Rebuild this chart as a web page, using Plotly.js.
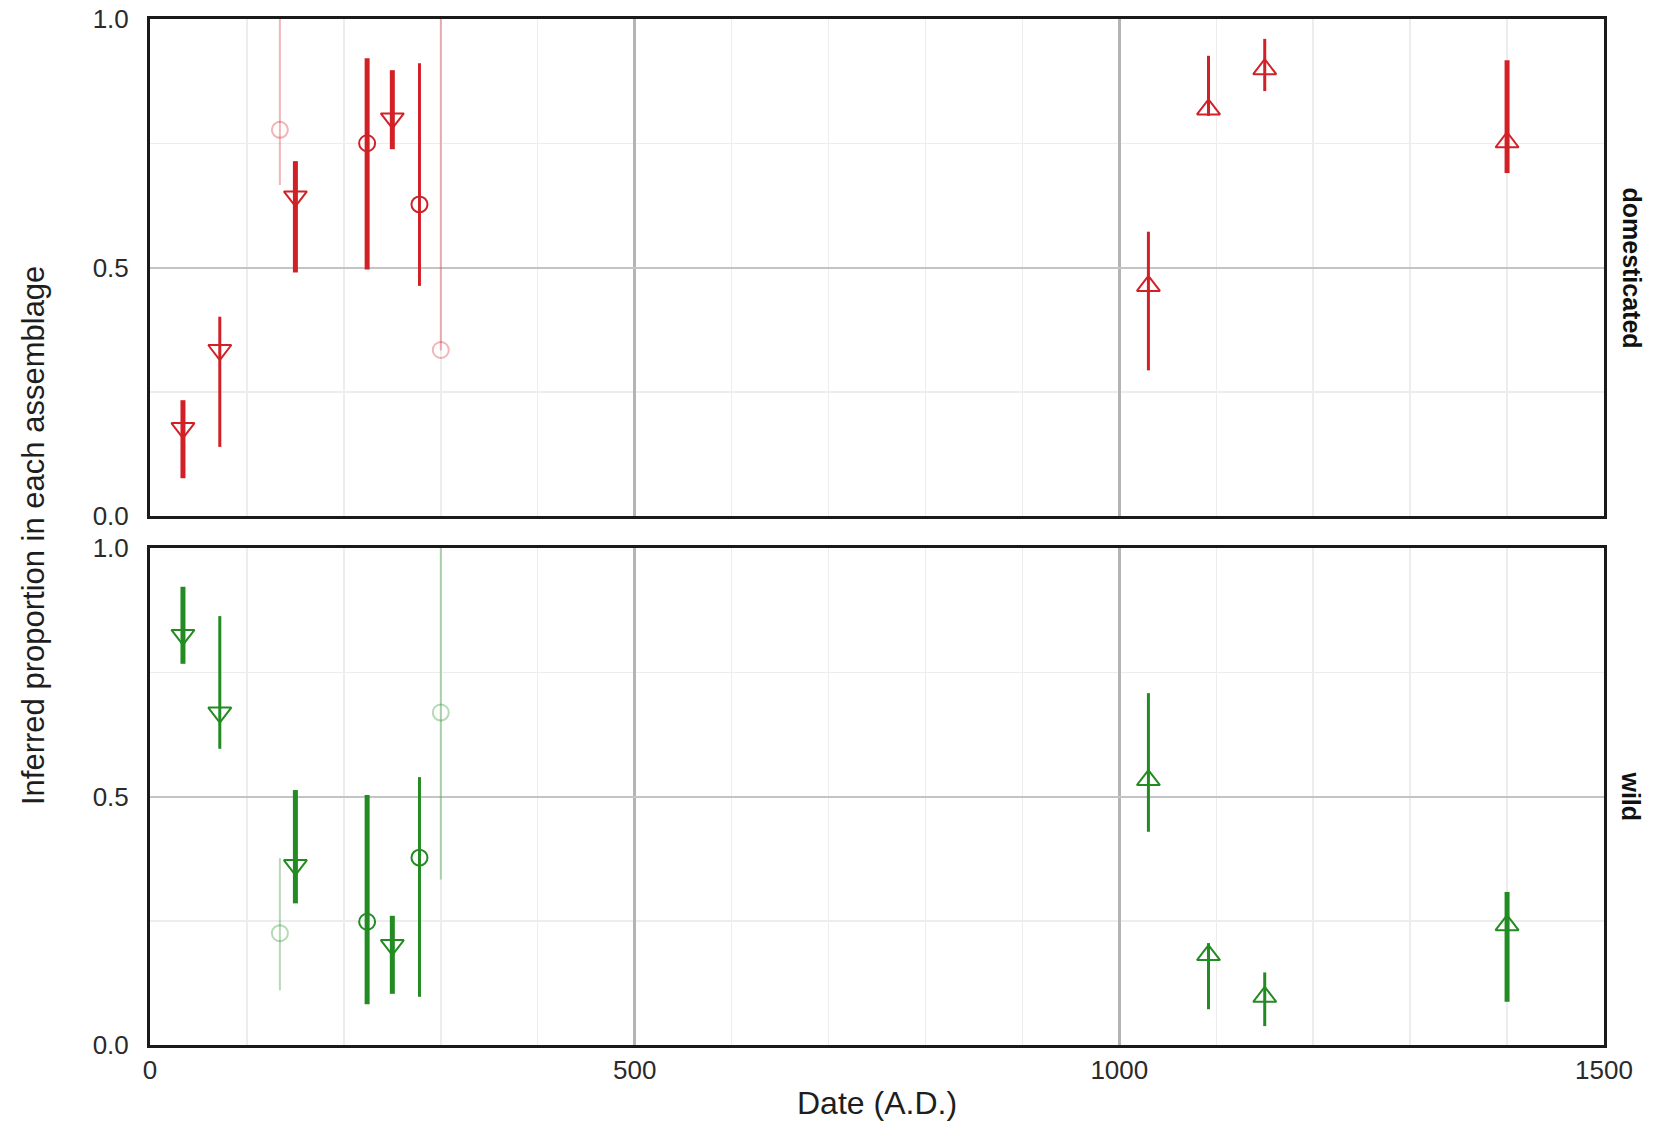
<!DOCTYPE html>
<html>
<head>
<meta charset="utf-8">
<script src="https://cdn.plot.ly/plotly-3.0.1.min.js"></script>
<style>
  html, body { margin: 0; padding: 0; background: #ffffff; }
  #chart { width: 1668px; height: 1125px; }
</style>
</head>
<body>
<div id="chart"></div>
<script>
// Assemblage dates (A.D.)
const dates = [34, 72, 134, 150, 224, 250, 278, 300, 1030, 1092, 1150, 1400];
// Marker shape for each assemblage
const symbols = ['triangle-down', 'triangle-down', 'circle', 'triangle-down', 'circle', 'triangle-down',
                 'circle', 'circle', 'triangle-up', 'triangle-up', 'triangle-up', 'triangle-up'];
// Interval line weight for each assemblage
const barWeights = [5, 3, 2, 5, 5, 5, 3, 2, 3, 3, 3, 5];
// Assemblages drawn pale
const faded = [false, false, true, false, false, false, false, true, false, false, false, false];

// Domesticated proportion: estimate and interval
const domMid  = [0.177, 0.334, 0.777, 0.643, 0.750, 0.800, 0.627, 0.334, 0.463, 0.818, 0.899, 0.752];
const domLow  = [0.076, 0.139, 0.666, 0.490, 0.496, 0.738, 0.463, 0.333, 0.293, 0.805, 0.855, 0.690];
const domHigh = [0.233, 0.401, 1.000, 0.714, 0.921, 0.897, 0.911, 1.000, 0.572, 0.926, 0.960, 0.917];

// Wild proportion: estimate and interval
const wildMid  = [0.825, 0.669, 0.225, 0.362, 0.248, 0.201, 0.377, 0.669, 0.533, 0.181, 0.097, 0.241];
const wildLow  = [0.767, 0.596, 0.110, 0.285, 0.082, 0.103, 0.097, 0.333, 0.429, 0.072, 0.038, 0.087];
const wildHigh = [0.922, 0.863, 0.376, 0.513, 0.503, 0.260, 0.539, 1.000, 0.708, 0.205, 0.146, 0.308];

const panels = ['domesticated', 'wild'];
const xTicks = [0, 500, 1000, 1500];
const yTicks = [0, 0.5, 1];

const RED = 'rgb(210,32,39)', RED_PALE = 'rgba(210,32,39,0.33)';
const GREEN = 'rgb(34,139,34)', GREEN_PALE = 'rgba(34,139,34,0.33)';
const FONT = '"Liberation Sans", Arial, Helvetica, sans-serif';

function panelTraces(mid, low, high, solid, pale, xa, ya) {
  return dates.map((d, i) => {
    const col = faded[i] ? pale : solid;
    const isCircle = symbols[i] === 'circle';
    return {
      type: 'scatter', mode: 'markers', xaxis: xa, yaxis: ya,
      x: [d], y: [mid[i]], showlegend: false, hoverinfo: 'x+y',
      marker: { symbol: symbols[i] + '-open', size: isCircle ? 16 : 20, color: col,
                line: { width: 2, color: col } },
      error_y: { type: 'data', symmetric: false, array: [high[i] - mid[i]],
                 arrayminus: [mid[i] - low[i]], width: 0, thickness: barWeights[i], color: col },
      cliponaxis: true
    };
  });
}

const traces = [].concat(
  panelTraces(domMid, domLow, domHigh, RED, RED_PALE, 'x', 'y'),
  panelTraces(wildMid, wildLow, wildHigh, GREEN, GREEN_PALE, 'x2', 'y2')
);

const frame = { showline: true, mirror: true, linecolor: '#1a1a1a', linewidth: 3, zeroline: false, ticks: '' };

const xCommon = Object.assign({}, frame, {
  range: [0, 1500], tickvals: xTicks,
  showgrid: true, gridcolor: '#b4b4b4', gridwidth: 2.5,
  minor: { dtick: 100, tick0: 0, showgrid: true, gridcolor: '#ededed', gridwidth: 1.5, ticks: '' },
  tickfont: { family: FONT, size: 26, color: '#2a2a2a' }
});
const yCommon = Object.assign({}, frame, {
  range: [0, 1], tickvals: yTicks, tickformat: '.1f',
  showgrid: true, gridcolor: '#c4c4c4', gridwidth: 2,
  minor: { dtick: 0.25, tick0: 0, showgrid: true, gridcolor: '#ededed', gridwidth: 1.5, ticks: '' },
  tickfont: { family: FONT, size: 26, color: '#2a2a2a' },
  ticklabelstandoff: 13
});

const layout = {
  width: 1668, height: 1125,
  margin: { l: 150, r: 64, t: 19, b: 80 },
  paper_bgcolor: '#ffffff', plot_bgcolor: '#ffffff',
  showlegend: false,
  xaxis: Object.assign({}, xCommon, { anchor: 'y', showticklabels: false }),
  yaxis: Object.assign({}, yCommon, { domain: [0.5156, 1], anchor: 'x' }),
  xaxis2: Object.assign({}, xCommon, { anchor: 'y2', matches: 'x', ticklabelstandoff: 0 }),
  yaxis2: Object.assign({}, yCommon, { domain: [0, 0.4844], anchor: 'x2' }),
  annotations: [
    { text: 'Date (A.D.)', xref: 'paper', yref: 'paper', x: 0.5, y: -0.0565,
      xanchor: 'center', yanchor: 'middle', showarrow: false,
      font: { family: FONT, size: 32, color: '#1e1e1e' } },
    { text: 'Inferred proportion in each assemblage', xref: 'paper', yref: 'paper',
      x: -0.0805, y: 0.497, xanchor: 'center', yanchor: 'middle', textangle: -90, showarrow: false,
      font: { family: FONT, size: 31, color: '#1e1e1e' } },
    { text: '<b>' + panels[0] + '</b>', xref: 'paper', yref: 'paper', x: 1.0186, y: 0.7578,
      xanchor: 'center', yanchor: 'middle', textangle: 90, showarrow: false,
      font: { family: FONT, size: 25, color: '#111111' } },
    { text: '<b>' + panels[1] + '</b>', xref: 'paper', yref: 'paper', x: 1.0186, y: 0.2422,
      xanchor: 'center', yanchor: 'middle', textangle: 90, showarrow: false,
      font: { family: FONT, size: 25, color: '#111111' } }
  ]
};

Plotly.newPlot('chart', traces, layout, { staticPlot: true, displayModeBar: false });
</script>
</body>
</html>
